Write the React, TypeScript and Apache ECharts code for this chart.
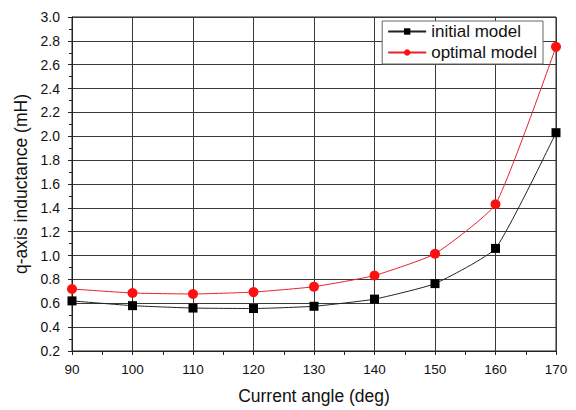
import React, { useEffect, useRef } from "react";
import * as echarts from "echarts";

const angles = [90, 100, 110, 120, 130, 140, 150, 160, 170];
const initialModel = [0.62, 0.58, 0.56, 0.556, 0.575, 0.635, 0.765, 1.06, 2.03];
const optimalModel = [0.72, 0.686, 0.678, 0.694, 0.739, 0.833, 1.015, 1.43, 2.75];

export default function App() {
  const ref = useRef<HTMLDivElement>(null);
  useEffect(() => {
    if (!ref.current) return;
    const chart = echarts.init(ref.current, null, { renderer: "svg" });
    const font = "Arial, 'Liberation Sans', sans-serif";
    chart.setOption({
      animation: false,
      backgroundColor: "#fff",
      grid: { left: 72, right: 20, top: 17, bottom: 56, show: true, borderColor: "#222", borderWidth: 1 },
      legend: {
        right: 33,
        top: 21,
        orient: "vertical",
        backgroundColor: "#fff",
        borderColor: "#666",
        borderWidth: 1,
        padding: [2, 6, 3, 5],
        itemGap: 4,
        itemWidth: 38,
        itemHeight: 8,
        textStyle: { fontFamily: font, fontSize: 17, color: "#111" },
        data: ["initial model", "optimal model"],
      },
      xAxis: {
        type: "value",
        min: 90,
        max: 170,
        interval: 10,
        name: "Current angle (deg)",
        nameLocation: "middle",
        nameGap: 36,
        nameTextStyle: { fontFamily: font, fontSize: 17.5, color: "#111" },
        axisLine: { lineStyle: { color: "#222" } },
        axisTick: { show: true, inside: false, length: 4, lineStyle: { color: "#222" } },
        minorTick: { show: true, splitNumber: 2, length: 4, lineStyle: { color: "#222" } },
        axisLabel: { fontFamily: font, fontSize: 13.5, color: "#111", margin: 11 },
        splitLine: { show: true, lineStyle: { color: "#3a3a3a", width: 1 } },
      },
      yAxis: {
        type: "value",
        min: 0.2,
        max: 3.0,
        interval: 0.2,
        name: "q-axis inductance (mH)",
        nameLocation: "middle",
        nameGap: 34,
        nameTextStyle: { fontFamily: font, fontSize: 17.5, color: "#111" },
        axisLine: { show: true, lineStyle: { color: "#222" } },
        axisTick: { show: true, inside: false, length: 4, lineStyle: { color: "#222" } },
        minorTick: { show: true, splitNumber: 2, length: 3, lineStyle: { color: "#222" } },
        axisLabel: {
          fontFamily: font,
          fontSize: 14,
          color: "#111",
          margin: 12,
          formatter: (v: number) => v.toFixed(1),
        },
        splitLine: { show: true, lineStyle: { color: "#3a3a3a", width: 1 } },
      },
      series: [
        {
          name: "initial model",
          type: "line",
          smooth: 0.15,
          data: angles.map((a, i) => [a, initialModel[i]]),
          symbol: "rect",
          symbolSize: 9,
          lineStyle: { color: "#222", width: 1 },
          itemStyle: { color: "#000" },
        },
        {
          name: "optimal model",
          type: "line",
          smooth: 0.15,
          data: angles.map((a, i) => [a, optimalModel[i]]),
          symbol: "circle",
          symbolSize: 10,
          lineStyle: { color: "#e8202a", width: 1 },
          itemStyle: { color: "#ff1010" },
        },
      ],
    });
    return () => chart.dispose();
  }, []);
  return (
    <div
      ref={ref}
      style={{ position: "fixed", left: 0, top: 0, width: 576, height: 410, background: "#fff" }}
    />
  );
}
